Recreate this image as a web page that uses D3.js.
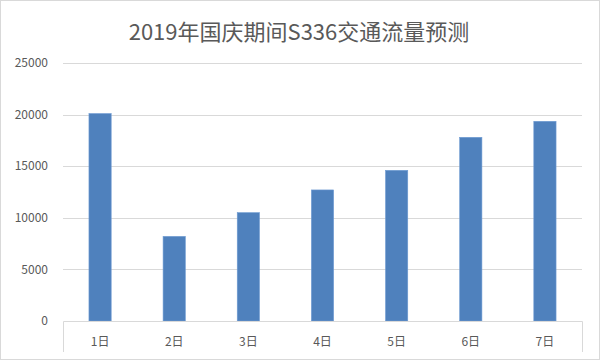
<!DOCTYPE html>
<html><head><meta charset="utf-8">
<script src="https://cdn.jsdelivr.net/npm/d3@7"></script>
<style>body{margin:0;background:#fff}svg{display:block}</style>
</head><body>
<script>
const title = "2019年国庆期间S336交通流量预测";
const categories = ["1日","2日","3日","4日","5日","6日","7日"];
const values = [20100, 8200, 10500, 12700, 14600, 17800, 19350];
const yTicks = [0, 5000, 10000, 15000, 20000, 25000];

const W = 601, H = 361;
const margin = {left: 63, right: 19, top: 63, bottom: 40};
const svg = d3.select("body").append("svg").attr("width", W).attr("height", H);
const font = "'Noto Sans CJK SC','Noto Sans',sans-serif";

svg.append("rect").attr("x", 0.5).attr("y", 0.5).attr("width", W - 2).attr("height", H - 2)
  .attr("fill", "#fff").attr("stroke", "#d9d9d9");

const x = d3.scaleBand().domain(categories).range([margin.left, W - margin.right]).paddingInner(0.7).paddingOuter(0.35);
const y = d3.scaleLinear().domain([0, 25000]).range([H - margin.bottom, margin.top]);

// gridlines
svg.append("g").selectAll("line").data(yTicks.slice(1)).join("line")
  .attr("x1", margin.left).attr("x2", W - margin.right)
  .attr("y1", d => Math.round(y(d)) + 0.5).attr("y2", d => Math.round(y(d)) + 0.5)
  .attr("stroke", "#d9d9d9").attr("stroke-width", 1);

// y labels
svg.append("g").selectAll("text").data(yTicks).join("text")
  .attr("x", 48).attr("y", d => y(d)).attr("dy", "0.35em")
  .attr("text-anchor", "end").attr("font-family", font).attr("font-size", 12)
  .attr("fill", "#595959").text(d => d);

// bars
svg.append("g").selectAll("rect").data(values).join("rect")
  .attr("x", (d, i) => x(categories[i])).attr("width", x.bandwidth())
  .attr("y", d => y(d)).attr("height", d => y(0) - y(d))
  .attr("fill", "#4f81bd").attr("stroke", "#6f9bd3").attr("stroke-width", 0.6);

// x axis
const y0 = Math.round(y(0)) + 0.5;
const xl = margin.left + 0.5, xr = W - margin.right + 0.5;
svg.append("line").attr("x1", xl).attr("x2", xr).attr("y1", y0).attr("y2", y0).attr("stroke", "#d9d9d9");
svg.append("line").attr("x1", xl).attr("x2", xl).attr("y1", y0).attr("y2", 352).attr("stroke", "#d9d9d9");
svg.append("line").attr("x1", xr).attr("x2", xr).attr("y1", y0).attr("y2", 352).attr("stroke", "#d9d9d9");

svg.append("g").selectAll("text").data(categories).join("text")
  .attr("x", d => x(d) + x.bandwidth() / 2).attr("y", 342).attr("dy", "0.35em")
  .attr("text-anchor", "middle").attr("font-family", font).attr("font-size", 12)
  .attr("fill", "#595959").text(d => d);

svg.append("text").attr("x", 299).attr("y", 32).attr("dy", "0.35em")
  .attr("text-anchor", "middle").attr("font-family", font).attr("font-size", 22)
  .attr("fill", "#595959").text(title);
</script>
</body></html>
